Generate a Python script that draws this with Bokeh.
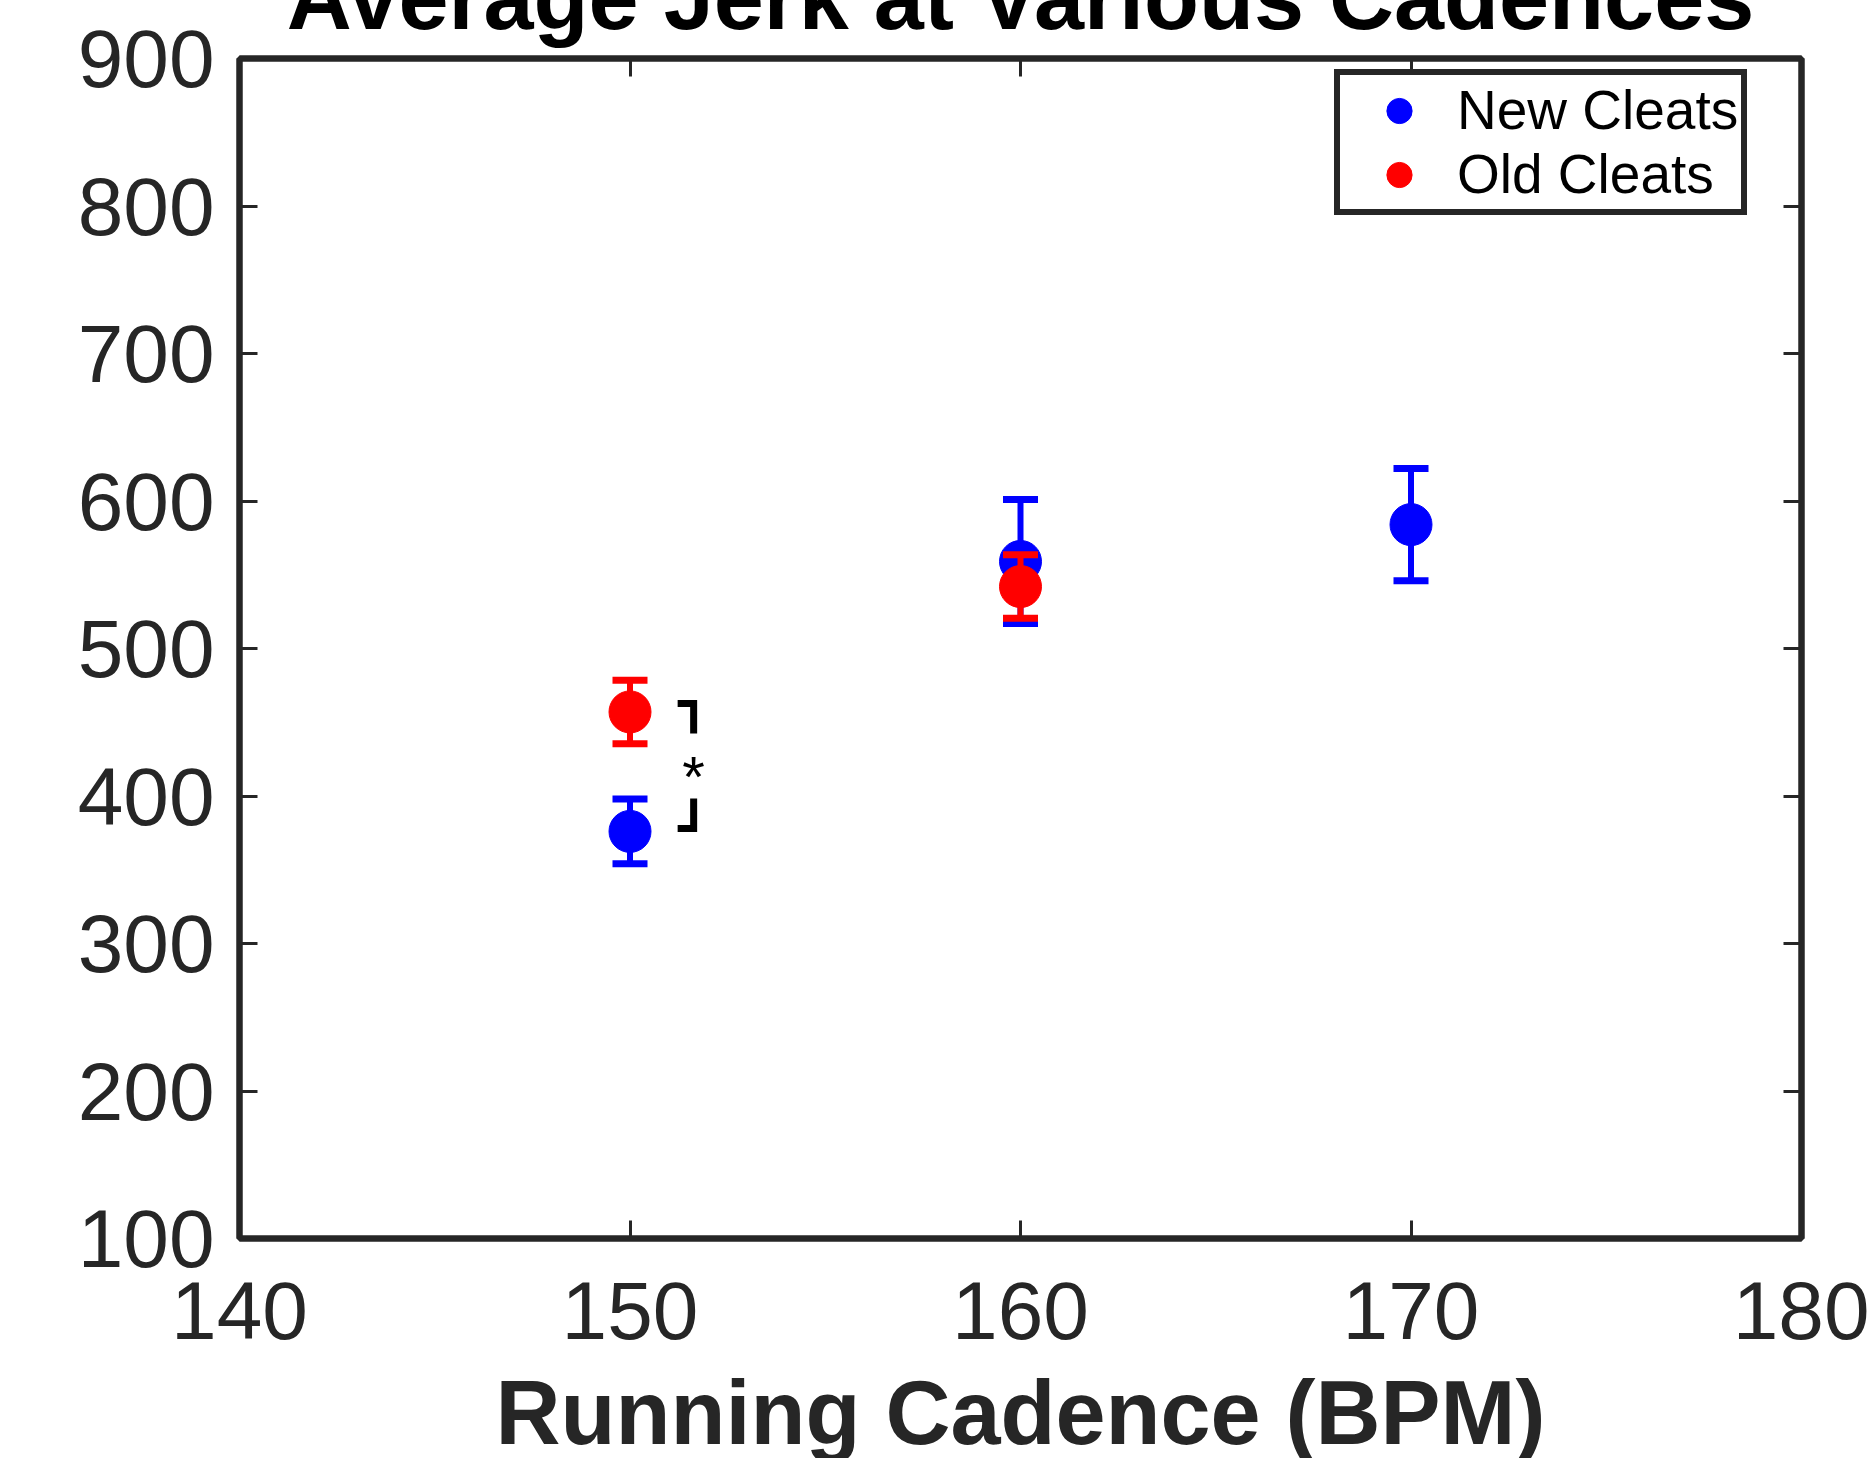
from bokeh.plotting import figure
from bokeh.models import (ColumnDataSource, LinearAxis, FixedTicker, Range1d,
                          Legend, LegendItem, Label)
from bokeh.embed import file_html
from bokeh.resources import INLINE

# ---------------- data ----------------
new_cadence = [150, 160, 170]
new_mean = [376, 559, 584]
new_err = [22, 42, 38]

old_cadence = [150, 160]
old_mean = [457, 542]
old_err = [21.5, 21.5]

x_ticks = [140, 150, 160, 170, 180]
y_ticks = [100, 200, 300, 400, 500, 600, 700, 800, 900]

title_text = "Average Jerk at Various Cadences"
xlabel_text = "Running Cadence (BPM)"
series_names = ["New Cleats", "Old Cleats"]

# significance bracket (data units)
sig_x_left = 151.22
sig_x_right = 151.63
sig_top = [462.7, 442.4]
sig_bottom = [398.3, 378]
sig_star_y = 413

AX = "#262626"
FONT = "Liberation Sans"

BORDER_TOP = 150
BORDER_BOTTOM = 270
SHIFT = BORDER_TOP - 58
H = BORDER_TOP + 1180 + BORDER_BOTTOM

p = figure(width=1869, height=H, output_backend="svg",
           toolbar_location=None,
           x_range=Range1d(140, 180), y_range=Range1d(100, 900),
           x_axis_location=None, y_axis_location=None,
           min_border_left=239, min_border_right=68, min_border_top=BORDER_TOP,
           min_border_bottom=BORDER_BOTTOM, background_fill_color="white",
           border_fill_color="white")
p.styles = {"margin-top": f"-{SHIFT}px", "margin-bottom": f"-{H - SHIFT - 1458 + 2}px"}
p.title.text = title_text
p.title.align = "center"
p.title.text_font = FONT
p.title.text_font_size = "90px"
p.title.text_font_style = "bold"
p.title.text_color = "black"
p.title.standoff = 21
p.xgrid.visible = False
p.ygrid.visible = False
p.outline_line_color = AX
p.outline_line_width = 6
p.outline_line_alpha = 1


def make_axis(ticks, labels=True):
    ax = LinearAxis(ticker=FixedTicker(ticks=ticks))
    ax.axis_line_color = AX
    ax.axis_line_width = 6
    ax.major_tick_line_color = AX
    ax.major_tick_line_width = 3
    ax.major_tick_in = 18
    ax.major_tick_out = 0
    ax.minor_tick_line_color = None
    ax.major_label_text_font = FONT
    ax.major_label_text_font_size = "82px"
    ax.major_label_text_color = AX
    if not labels:
        ax.major_label_overrides = {t: "" for t in ticks}
    return ax


xb = make_axis(x_ticks)
xb.major_label_standoff = 43
xb.axis_label = xlabel_text
xb.axis_label_text_font = FONT
xb.axis_label_text_font_size = "90px"
xb.axis_label_text_font_style = "bold"
xb.axis_label_text_color = AX
xb.axis_label_standoff = 21
p.add_layout(xb, "below")
yl = make_axis(y_ticks)
yl.major_label_standoff = 25
p.add_layout(yl, "left")
xa = make_axis(x_ticks, labels=False)
xa.major_label_standoff = 0
p.add_layout(xa, "above")
yr = make_axis(y_ticks, labels=False)
yr.major_label_standoff = 0
p.add_layout(yr, "right")


def draw_series(xs, ys, errs, color):
    src = ColumnDataSource(dict(
        x=xs, y=ys,
        lo=[y - e for y, e in zip(ys, errs)],
        hi=[y + e for y, e in zip(ys, errs)],
    ))
    p.segment(x0="x", y0="lo", x1="x", y1="hi", source=src,
              line_color=color, line_width=6)
    p.scatter(x="x", y="hi", source=src, marker="dash", size=35,
              line_color=color, line_width=7)
    p.scatter(x="x", y="lo", source=src, marker="dash", size=35,
              line_color=color, line_width=7)
    r = p.scatter(x="x", y="y", source=src, marker="circle", size=42,
                  fill_color=color, line_color=color, line_width=1)
    return r


r_new = draw_series(new_cadence, new_mean, new_err, "#0000FF")
r_old = draw_series(old_cadence, old_mean, old_err, "#FF0000")

# significance bracket
p.line(x=[sig_x_left, sig_x_right, sig_x_right], y=[sig_top[0], sig_top[0], sig_top[1]],
       line_color="black", line_width=7, line_join="miter")
p.line(x=[sig_x_right, sig_x_right, sig_x_left], y=[sig_bottom[0], sig_bottom[1], sig_bottom[1]],
       line_color="black", line_width=7, line_join="miter")
p.add_layout(Label(x=sig_x_right, y=sig_star_y, text="*", text_font=FONT,
                   text_font_size="58px", text_color="black",
                   text_align="center", text_baseline="alphabetic"))

legend = Legend(items=[LegendItem(label=series_names[0], renderers=[r_new]),
                       LegendItem(label=series_names[1], renderers=[r_old])],
                location=(1095, 1023))
legend.label_text_font = FONT
legend.label_text_font_size = "55px"
legend.label_text_color = "black"
legend.glyph_width = 112
legend.glyph_height = 63
legend.label_height = 63
legend.label_standoff = 2
legend.spacing = 0
legend.padding = 3
legend.margin = 0
legend.border_line_color = AX
legend.border_line_width = 6
legend.border_line_alpha = 1
legend.background_fill_color = "white"
legend.background_fill_alpha = 1
p.add_layout(legend)

open("out.html", "w").write(file_html(p, INLINE))
